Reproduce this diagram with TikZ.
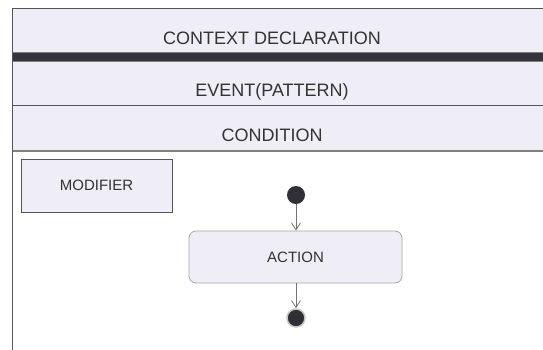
\documentclass[tikz,border=0pt]{standalone}
\usepackage{fontspec}
\setmainfont{Liberation Sans}
\usetikzlibrary{arrows.meta}
\definecolor{bandfill}{HTML}{EFEEF6}
\definecolor{txt}{HTML}{333333}
\definecolor{linec}{HTML}{555555}
\definecolor{darkbar}{HTML}{34333D}
\definecolor{dotc}{HTML}{2F2F35}
\tikzset{
  bandtext/.style={anchor=base, text=txt, font=\fontsize{18}{20}\selectfont, inner sep=0pt},
  smalltext/.style={anchor=base, text=txt, font=\fontsize{15}{17}\selectfont, inner sep=0pt},
  modbox/.style={draw=linec, fill=bandfill, line width=1pt, minimum width=151pt, minimum height=52.5pt, inner sep=0pt},
  actbox/.style={draw=gray!70, fill=bandfill, line width=0.8pt, rounded corners=7pt, minimum width=213pt, minimum height=52pt, inner sep=0pt},
  startdot/.style={circle, fill=dotc, minimum size=18pt, inner sep=0pt},
  enddot/.style={circle, fill=dotc, draw=gray!45, line width=1.5pt, minimum size=18pt, inner sep=0pt},
  flow/.style={draw=gray!90!black, line width=0.8pt, -{Straight Barb[length=7pt,width=9pt]}}
}
\begin{document}
\begin{tikzpicture}[x=1pt,y=-1pt]
\fill[white] (0,0) rectangle (543,350);
\useasboundingbox (0,0) rectangle (543,350);
% bands
\fill[bandfill] (12,9) rectangle (543,151);
\fill[darkbar] (12,53) rectangle (543,62);
\draw[linec, line width=1pt] (12,9) -- (543,9);
\draw[gray, line width=1pt] (12,53) -- (543,53);
\draw[gray, line width=1pt] (12,62) -- (543,62);
\draw[linec, line width=1pt] (12,106) -- (543,106);
\draw[gray, line width=1.6pt] (12,151) -- (543,151);
\draw[linec, line width=1pt] (12,9) -- (12,350);
% texts
\node[bandtext] (ctx) at (272,45) {CONTEXT DECLARATION};
\node[bandtext] (evt) at (272,97) {EVENT(PATTERN)};
\node[bandtext] (cnd) at (272,142) {CONDITION};
% modifier
\node[modbox] (mod) at (96.5,186) {};
\node[smalltext] (modt) at (96.5,190.5) {MODIFIER};
% action
\node[actbox] (act) at (295.5,257) {};
\node[smalltext] (actt) at (295.5,262) {ACTION};
\node[startdot] (start) at (296,195) {};
\node[enddot] (end) at (296,318) {};
\draw[flow] (start) -- (act.north -| start);
\draw[flow] (act.south -| end) -- (end);
\end{tikzpicture}
\end{document}
